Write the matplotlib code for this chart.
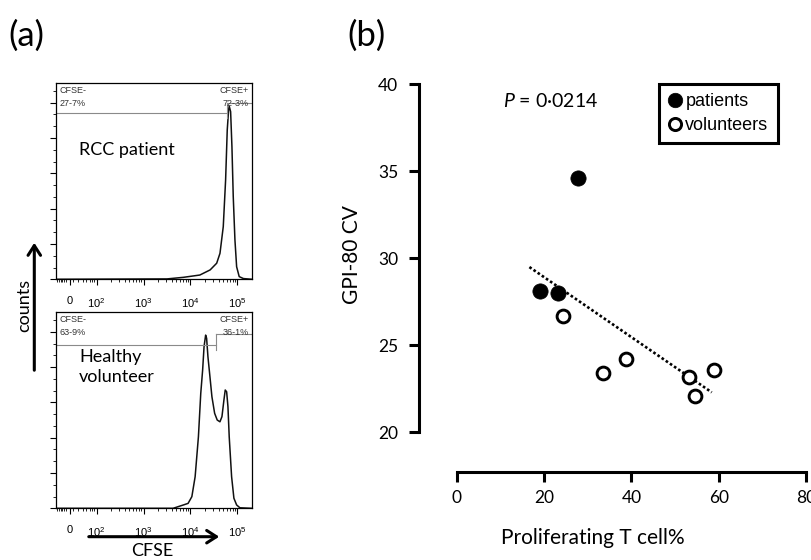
import numpy as np
import matplotlib.pyplot as plt
from matplotlib.ticker import MultipleLocator, FixedLocator

plt.rcParams['font.family'] = ['Lato', 'DejaVu Sans']
plt.rcParams['mathtext.fontset'] = 'custom'
plt.rcParams['mathtext.rm'] = 'Liberation Sans'
plt.rcParams['mathtext.it'] = 'Lato:italic'

# ---- panel (b) data ----
patient_x = [19.0, 23.1, 27.8]
patient_y = [28.1, 28.0, 34.6]
volunteer_x = [24.3, 33.4, 38.8, 53.1, 54.6, 58.9]
volunteer_y = [26.7, 23.4, 24.2, 23.2, 22.1, 23.6]
trend_x = [16.6, 58.4]
trend_y = [29.5, 22.3]
b_xticks = [0, 20, 40, 60, 80]
b_yticks = [20, 25, 30, 35, 40]

# ---- panel (a) data: CFSE position in decades, counts as % ----
rcc_x = [1.13, 3.50, 3.85, 4.20, 4.42, 4.56, 4.63, 4.70, 4.75, 4.785, 4.814,
         4.827, 4.857, 4.885, 4.913, 4.949, 4.985, 5.04, 5.13, 5.31]
rcc_y = [0.0, 0.2, 1.1, 2.4, 5.3, 9.1, 14.7, 29.8, 56.2, 84.6, 95.9,
         98.1, 94.9, 75.1, 46.8, 22.3, 7.1, 1.5, 0.4, 0.0]
hv_x = [1.13, 3.63, 3.70, 3.78, 3.85, 3.95, 4.03, 4.10, 4.17, 4.22, 4.26,
        4.29, 4.324, 4.345, 4.373, 4.416, 4.458, 4.516, 4.571, 4.629, 4.672,
        4.714, 4.742, 4.772, 4.80, 4.827, 4.878, 4.927, 4.985, 5.055, 5.31]
hv_y = [0.0, 0.0, 0.6, 1.3, 1.9, 2.8, 6.6, 17.9, 40.5, 65.1, 78.3,
        91.5, 98.1, 96.3, 85.9, 74.5, 63.2, 53.8, 50.0, 49.0, 51.9,
        61.3, 67.0, 66.0, 57.5, 40.5, 17.9, 5.7, 1.9, 0.3, 0.0]
rcc_gate = dict(split=4.778, neg_y=94.2, pos_y=99.7,
                neg='CFSE-\n27-7%', pos='CFSE+\n72-3%')
hv_gate = dict(split=4.54, neg_y=92.5, pos_y=98.7,
               neg='CFSE-\n63-9%', pos='CFSE+\n36-1%')
flow_ticks = [1.43, 2, 3, 4, 5]
flow_ticklabels = ['0', r'$\mathregular{10^{2}}$', r'$\mathregular{10^{3}}$',
                   r'$\mathregular{10^{4}}$', r'$\mathregular{10^{5}}$']

fig = plt.figure(figsize=(8.12, 5.6), dpi=100)


def flow_panel(rect, hx, hy, gate, label):
    ax = fig.add_axes(rect)
    ax.plot(hx, hy, color='#111111', lw=1.1)
    ax.set_xlim(1.126, 5.307)
    ax.set_ylim(0, 111)
    for s in ax.spines.values():
        s.set_linewidth(0.9)
    ax.set_xticks(flow_ticks)
    ax.set_xticklabels(flow_ticklabels, family='Liberation Sans', fontsize=8)
    minors = [1.15, 1.19, 1.23, 1.27, 1.31, 1.35, 1.5, 1.6, 1.7, 1.78, 1.85, 1.9, 1.95]
    for d in (2, 3, 4):
        minors += [d + np.log10(k) for k in range(2, 10)]
    ax.xaxis.set_minor_locator(FixedLocator(minors))
    ax.yaxis.set_major_locator(MultipleLocator(20))
    ax.yaxis.set_minor_locator(MultipleLocator(20 / 3))
    ax.set_yticklabels([])
    ax.tick_params(which='major', length=4, width=0.8, pad=8)
    ax.tick_params(which='minor', length=2, width=0.6)
    g = '#8a8a8a'
    ax.plot([1.126, gate['split']], [gate['neg_y'], gate['neg_y']], color=g, lw=0.8)
    ax.plot([gate['split'], 5.307], [gate['pos_y'], gate['pos_y']], color=g, lw=0.8)
    ax.plot([gate['split'], gate['split']], [gate['neg_y'] - 3, gate['pos_y']], color=g, lw=0.8)
    ax.text(0.02, 0.985, gate['neg'], transform=ax.transAxes, ha='left', va='top',
            family='Liberation Sans', fontsize=6.5, color='#333333', linespacing=1.5)
    ax.text(0.985, 0.985, gate['pos'], transform=ax.transAxes, ha='right', va='top',
            family='Liberation Sans', fontsize=6.5, color='#333333', linespacing=1.5)
    ax.text(0.12, label[1], label[0], transform=ax.transAxes, ha='left', va='center',
            fontsize=13, linespacing=1.35)
    return ax


flow_panel([0.0686, 0.5013, 0.2414, 0.35], rcc_x, rcc_y, rcc_gate, ('RCC patient', 0.66))
flow_panel([0.0686, 0.0923, 0.2414, 0.35], hv_x, hv_y, hv_gate, ('Healthy\nvolunteer', 0.72))

arrow = dict(arrowstyle='->,head_length=0.7,head_width=0.45', lw=2.2, color='black')
fig.add_artist(plt.Annotation('', xy=(34.3, 320), xytext=(34.3, 187),
                              xycoords='figure pixels', arrowprops=arrow))
fig.add_artist(plt.Annotation('', xy=(222, 23.3), xytext=(86, 23.3),
                              xycoords='figure pixels', arrowprops=arrow))
fig.text(24 / 812, 1 - 305 / 560, 'counts', rotation=90, ha='center', va='center', fontsize=13)
fig.text(152 / 812, 1 - 551 / 560, 'CFSE', ha='center', va='center', fontsize=13)
fig.text(8 / 812, 1 - 36 / 560, '(a)', ha='left', va='center', fontsize=25)
fig.text(347 / 812, 1 - 36 / 560, '(b)', ha='left', va='center', fontsize=25)

# ---- panel (b) ----
ax = fig.add_axes([0.516, 0.1571, 0.4815, 0.70])
ax.plot(trend_x, trend_y, color='black', lw=1.9, linestyle=(0, (1, 0.9)))
ax.plot(patient_x, patient_y, 'o', ms=11, mfc='black', mec='black', mew=0.5,
        label='patients', zorder=3)
ax.plot(volunteer_x, volunteer_y, 'o', ms=9.2, mfc='white', mec='black', mew=2.1,
        label='volunteers', zorder=3)
ax.set_xlim(-8.71, 80.92)
ax.set_ylim(17.72, 40.25)
ax.spines['top'].set_visible(False)
ax.spines['right'].set_visible(False)
ax.spines['left'].set_bounds(20, 40)
ax.spines['bottom'].set_bounds(0, 80)
for s in ('left', 'bottom'):
    ax.spines[s].set_linewidth(2.2)
ax.set_xticks(b_xticks)
ax.set_yticks(b_yticks)
ax.tick_params(length=7, width=2.2, labelsize=12.5)
ax.tick_params(axis='y', pad=8)
ax.tick_params(axis='x', pad=6)
ax.set_xlabel('Proliferating T cell%', fontsize=15)
ax.set_ylabel('GPI-80 CV', fontsize=15)
ax.xaxis.set_label_coords(0.444, -0.168)
ax.yaxis.set_label_coords(-0.171, 0.554)
ax.xaxis.label.set_va('center')
ax.yaxis.label.set_va('center')
ax.text(503, 560 - 107, r'$P$ = 0·0214', transform=None, fontsize=14, va='baseline')
leg = ax.legend(loc='upper right', bbox_to_anchor=(0.917, 0.99), borderaxespad=0,
                frameon=True, fancybox=False, edgecolor='black', framealpha=1,
                prop={'family': 'Liberation Sans', 'size': 13}, handlelength=0.7,
                handletextpad=0.25, borderpad=0.5, labelspacing=0.4, markerscale=0.95)
leg.get_frame().set_linewidth(2.2)

fig.savefig('out.png', dpi=100)
